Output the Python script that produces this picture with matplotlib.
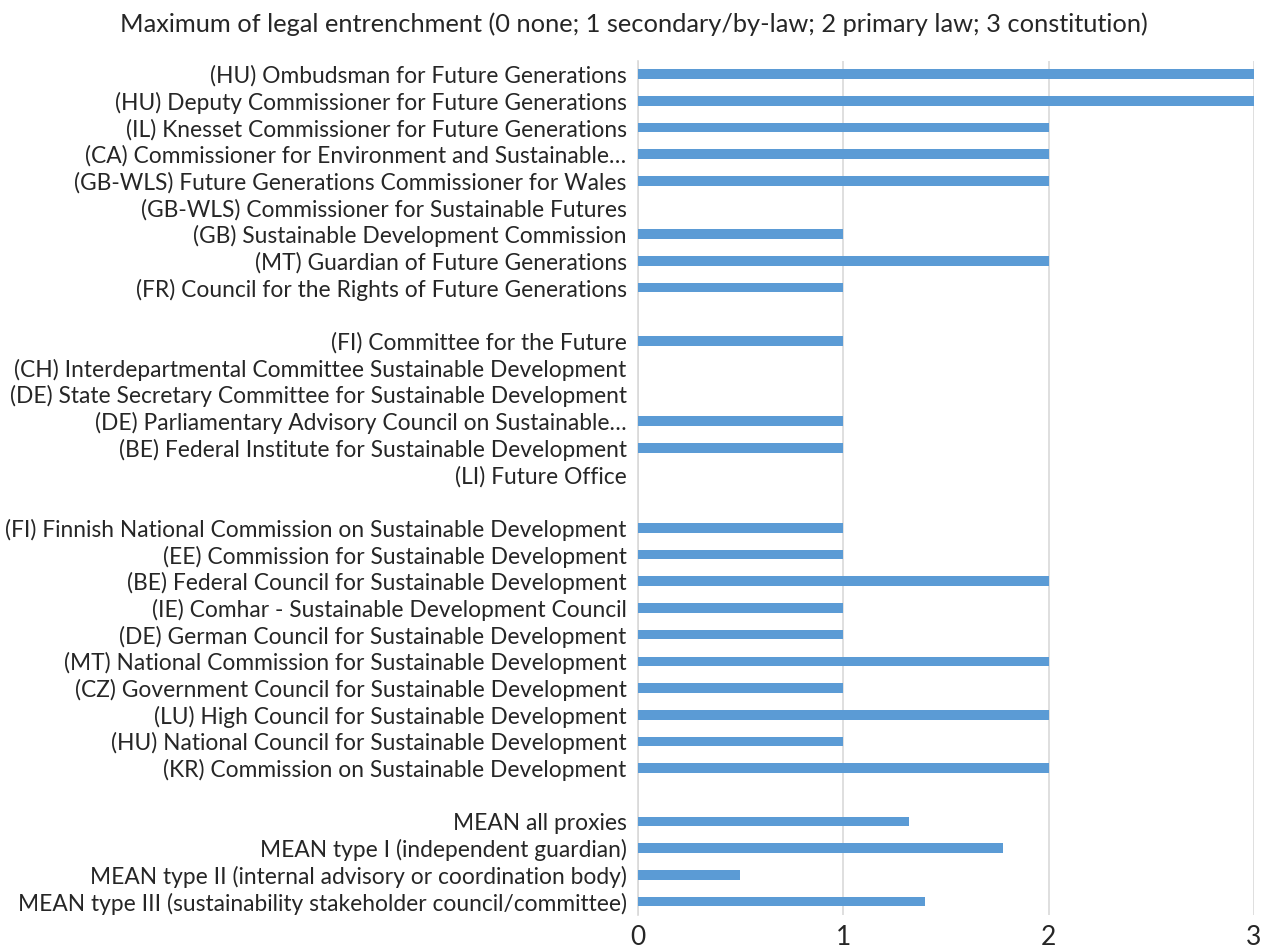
import matplotlib
matplotlib.use("Agg")
import matplotlib.pyplot as plt
import numpy as np

# type I: independent guardians
type1_names = [
    "(HU) Ombudsman for Future Generations",
    "(HU) Deputy Commissioner for Future Generations",
    "(IL) Knesset Commissioner for Future Generations",
    "(CA) Commissioner for Environment and Sustainable\u2026",
    "(GB-WLS) Future Generations Commissioner for Wales",
    "(GB-WLS) Commissioner for Sustainable Futures",
    "(GB) Sustainable Development Commission",
    "(MT) Guardian of Future Generations",
    "(FR) Council for the Rights of Future Generations",
]
type1_vals = [3, 3, 2, 2, 2, 0, 1, 2, 1]

# type II: internal advisory / coordination
type2_names = [
    "(FI) Committee for the Future",
    "(CH) Interdepartmental Committee Sustainable Development",
    "(DE) State Secretary Committee for Sustainable Development",
    "(DE) Parliamentary Advisory Council on Sustainable\u2026",
    "(BE) Federal Institute for Sustainable Development",
    "(LI) Future Office",
]
type2_vals = [1, 0, 0, 1, 1, 0]

# type III: stakeholder councils
type3_names = [
    "(FI) Finnish National Commission on Sustainable Development",
    "(EE) Commission for Sustainable Development",
    "(BE) Federal Council for Sustainable Development",
    "(IE) Comhar - Sustainable Development Council",
    "(DE) German Council for Sustainable Development",
    "(MT) National Commission for Sustainable Development",
    "(CZ) Government Council for Sustainable Development",
    "(LU) High Council for Sustainable Development",
    "(HU) National Council for Sustainable Development",
    "(KR) Commission on Sustainable Development",
]
type3_vals = [1, 1, 2, 1, 1, 2, 1, 2, 1, 2]

mean_names = [
    "MEAN all proxies",
    "MEAN type I (independent guardian)",
    "MEAN type II (internal advisory or coordination body)",
    "MEAN type III (sustainability stakeholder council/committee)",
]
mean_vals = [1.32, 1.78, 0.5, 1.4]

title = "Maximum of legal entrenchment (0 none; 1 secondary/by-law; 2 primary law; 3 constitution)"

plt.rcParams['font.family'] = ['Lato', 'DejaVu Sans']
txt_col = '#262626'

# stack groups with a blank row between them
labels = []
values = []
for names, vals in [(type1_names, type1_vals), (type2_names, type2_vals),
                    (type3_names, type3_vals), (mean_names, mean_vals)]:
    if labels:
        labels.append("")
        values.append(np.nan)
    labels += names
    values += vals

y = np.arange(len(labels))

fig = plt.figure(figsize=(12.67, 9.51), dpi=100)
ax = fig.add_axes([0.5033, 0.0379, 0.4864, 0.8983])

vals = np.array(values, dtype=float)
mask = ~np.isnan(vals)
ax.barh(y[mask], vals[mask], height=0.36, color='#5B9BD5', zorder=3)

ax.set_ylim(len(labels) - 0.5, -0.5)
ax.set_xlim(0, 3)
ax.set_yticks(y)
ax.set_yticklabels(labels, fontsize=16.4, color=txt_col)
ax.set_xticks([0, 1, 2, 3])
ax.set_xticklabels(['0', '1', '2', '3'], fontsize=19, color=txt_col)
ax.tick_params(axis='both', length=0)
ax.tick_params(axis='y', pad=8)
ax.tick_params(axis='x', pad=7)

ax.grid(axis='x', color='#D9D9D9', linewidth=1.2, zorder=0)
for s in ['top', 'right', 'bottom']:
    ax.spines[s].set_visible(False)
ax.spines['left'].set_color('#D9D9D9')
ax.spines['left'].set_linewidth(1.2)

fig.text(0.5, 0.975, title, ha='center', va='center', fontsize=18.3, color=txt_col)

fig.savefig("out.png", dpi=100)
